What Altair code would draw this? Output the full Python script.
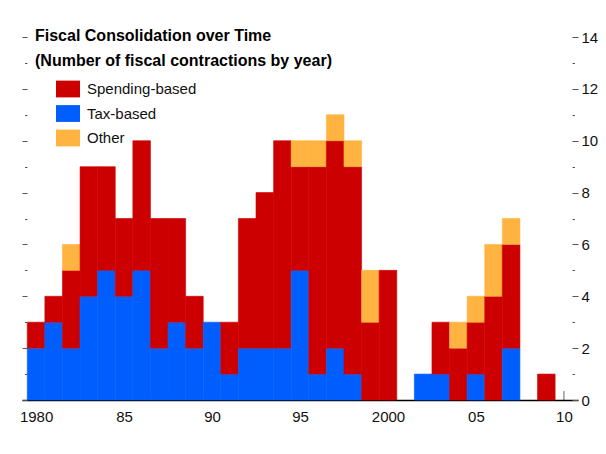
import altair as alt
import pandas as pd

# ---- data ----
years = list(range(1980, 2010))
tax_based = [2, 3, 2, 4, 5, 4, 5, 2, 3, 2, 3, 1, 2, 2, 2, 5, 1, 2, 1, 0,
             0, 0, 1, 1, 0, 1, 0, 2, 0, 0]
spending_based = [1, 1, 3, 5, 4, 3, 5, 5, 4, 2, 0, 2, 5, 6, 8, 4, 8, 8, 8, 3,
                  5, 0, 0, 2, 2, 2, 4, 4, 0, 1]
other = [0, 0, 1, 0, 0, 0, 0, 0, 0, 0, 0, 0, 0, 0, 0, 1, 1, 1, 1, 2,
         0, 0, 0, 0, 1, 1, 2, 1, 0, 0]

series_names = ["Spending-based", "Tax-based", "Other"]
series_colors = ["#CC0000", "#005EFF", "#FFB340"]
stack_rank = {"Tax-based": 0, "Spending-based": 1, "Other": 2}

x_tick_values = [1980, 1985, 1990, 1995, 2000, 2005, 2010]
y_tick_values = list(range(0, 15))

title_lines = ["Fiscal Consolidation over Time",
               "(Number of fiscal contractions by year)"]

# ---- long table ----
rows = []
for i, yr in enumerate(years):
    for name, vals in (("Tax-based", tax_based),
                       ("Spending-based", spending_based),
                       ("Other", other)):
        rows.append({"year": yr, "series": name, "count": vals[i],
                     "rank": stack_rank[name]})
df = pd.DataFrame(rows)
ticks_df = pd.DataFrame({"year": x_tick_values})

FONT = "Liberation Sans, Arial, sans-serif"

x_scale = alt.Scale(domain=[1979.2, 2010.8], nice=False, zero=False)
y_scale = alt.Scale(domain=[0, 14], nice=False)

x_axis = alt.Axis(values=x_tick_values, ticks=False, grid=False, title=None,
                  domainColor="#000000", domainWidth=1.5,
                  labelExpr="(datum.value == 1980 || datum.value == 2000) ? toString(datum.value) : slice(toString(datum.value), 2)",
                  labelFont=FONT, labelFontSize=15, labelColor="#111111",
                  labelPadding=9)

color_scale = alt.Scale(domain=series_names, range=series_colors)

bars = alt.Chart(df).transform_stack(
    stack="count", groupby=["year"], as_=["y0", "y1"],
    sort=[alt.SortField("rank", order="ascending")]
).transform_filter(
    "datum.count > 0"
).transform_calculate(
    x0="datum.year - 0.5", x1="datum.year + 0.5"
).mark_bar(strokeWidth=0.6).encode(
    x=alt.X("x0:Q", scale=x_scale, axis=x_axis),
    x2="x1:Q",
    y=alt.Y("y0:Q", scale=y_scale,
            axis=alt.Axis(orient="left", values=y_tick_values, labels=False,
                          domain=False, grid=False, title=None, offset=-5,
                          tickColor="#555555",
                          tickSize={"condition": {"test": "datum.value % 2 === 0", "value": 5}, "value": 2.5})),
    y2="y1:Q",
    color=alt.Color("series:N", scale=color_scale,
                    legend=alt.Legend(orient="none", legendX=34, legendY=40,
                                      title=None, padding=0,
                                      symbolType="M-1,-0.7H1V0.7H-1Z",
                                      symbolSize=576, symbolStrokeWidth=0,
                                      symbolOpacity=1,
                                      labelFont=FONT, labelFontSize=15,
                                      labelColor="#111111", labelOffset=7,
                                      rowPadding=3.5)),
    stroke=alt.Stroke("series:N", scale=color_scale, legend=None),
)

xticks = alt.Chart(ticks_df).transform_calculate(base="0").mark_tick(
    orient="vertical", size=9, thickness=1, yOffset=-4.5, color="#222222"
).encode(
    x=alt.X("year:Q", scale=x_scale, axis=x_axis),
    y=alt.Y("base:Q", scale=y_scale,
            axis=alt.Axis(orient="right", values=y_tick_values, domain=False,
                          grid=False, title=None, offset=-6,
                          tickColor="#555555",
                          tickSize={"condition": {"test": "datum.value % 2 === 0", "value": 6}, "value": 2.5},
                          labelExpr="datum.value % 2 === 0 ? datum.label : ''",
                          labelFont=FONT, labelFontSize=15, labelColor="#111111",
                          labelPadding=3)),
)

chart = alt.layer(xticks, bars).resolve_scale(y="independent").properties(
    width=556, height=363,
    autosize=alt.AutoSizeParams(type="none"),
    padding={"left": 22, "top": 37, "right": 28, "bottom": 54},
    background="white",
    title=alt.Title(title_lines, anchor="start", frame="group", dx=13,
                    offset=-39, font=FONT, fontSize=16, fontWeight="bold",
                    color="#000000", lineHeight=25),
).configure_view(stroke=None)

chart.save("out.html", embed_options={"renderer": "svg", "actions": False})
